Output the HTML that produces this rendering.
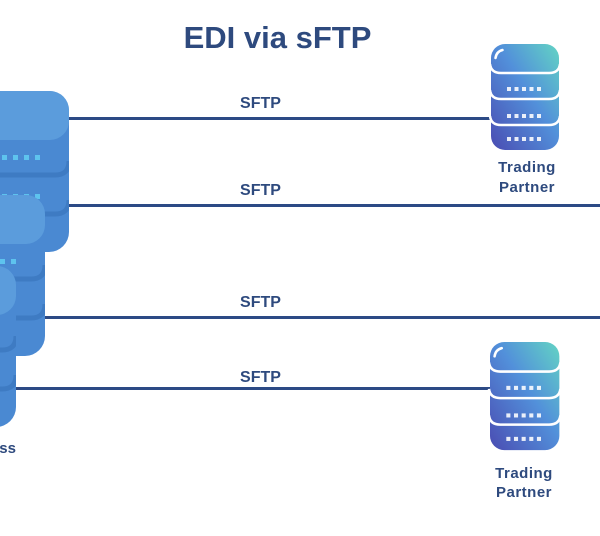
<!DOCTYPE html>
<html>
<head>
<meta charset="utf-8">
<style>
  html,body{margin:0;padding:0;background:#ffffff;}
  body{width:600px;height:536px;overflow:hidden;}
  svg{display:block;}
  text{font-family:"Liberation Sans", Arial, sans-serif;font-weight:bold;fill:#2e4a7e;}
</style>
</head>
<body>
<svg width="600" height="536" viewBox="0 0 600 536" xmlns="http://www.w3.org/2000/svg">
  <defs>
    <linearGradient id="tg" x1="0" y1="1" x2="1" y2="0">
      <stop offset="0" stop-color="#4a4cb2"/>
      <stop offset="0.55" stop-color="#5290da"/>
      <stop offset="1" stop-color="#63d4c4"/>
    </linearGradient>
    <clipPath id="lclip">
      <rect x="0" y="0" width="105" height="161" rx="20" ry="20"/>
    </clipPath>
    <!-- left (flat) server, 105 x 161 -->
    <g id="lserver">
      <rect x="0" y="0" width="105" height="161" rx="20" ry="20" fill="#4a89d2"/>
      <g clip-path="url(#lclip)">
        <path d="M0 70 Q0 84 14 84 L91 84 Q105 84 105 70" fill="none" stroke="#3e7bc3" stroke-width="5"/>
        <path d="M0 109 Q0 123 14 123 L91 123 Q105 123 105 109" fill="none" stroke="#3e7bc3" stroke-width="5"/>
      </g>
      <rect x="0" y="0" width="105" height="49" rx="19" ry="19" fill="#5b9cdc"/>
      <g fill="#5ec3ee">
        <rect x="27" y="64" width="5" height="5"/>
        <rect x="38" y="64" width="5" height="5"/>
        <rect x="49" y="64" width="5" height="5"/>
        <rect x="60" y="64" width="5" height="5"/>
        <rect x="71" y="64" width="5" height="5"/>
        <rect x="27" y="103" width="5" height="5"/>
        <rect x="38" y="103" width="5" height="5"/>
        <rect x="49" y="103" width="5" height="5"/>
        <rect x="60" y="103" width="5" height="5"/>
        <rect x="71" y="103" width="5" height="5"/>
        <rect x="27" y="140" width="5" height="5"/>
        <rect x="38" y="140" width="5" height="5"/>
        <rect x="49" y="140" width="5" height="5"/>
        <rect x="60" y="140" width="5" height="5"/>
        <rect x="71" y="140" width="5" height="5"/>
      </g>
    </g>
    <!-- right (gradient) server, 68 x 106 -->
    <g id="rserver">
      <rect x="0" y="0" width="68" height="106" rx="14" ry="14" fill="url(#tg)"/>
      <g fill="none" stroke="#ffffff" stroke-width="2.5">
        <path d="M-1 20 Q0 29 10 29 L58 29 Q68 29 69 20"/>
        <path d="M-1 46 Q0 55 10 55 L58 55 Q68 55 69 46"/>
        <path d="M-1 72 Q0 81 10 81 L58 81 Q68 81 69 72"/>
      </g>
      <path d="M4.5 14 Q5.5 7.5 11.5 6" fill="none" stroke="#ffffff" stroke-width="2.5" stroke-linecap="round"/>
      <g fill="#ffffff" fill-opacity="0.88">
        <rect x="16" y="43" width="4" height="4"/>
        <rect x="23.5" y="43" width="4" height="4"/>
        <rect x="31" y="43" width="4" height="4"/>
        <rect x="38.5" y="43" width="4" height="4"/>
        <rect x="46" y="43" width="4" height="4"/>
        <rect x="16" y="70" width="4" height="4"/>
        <rect x="23.5" y="70" width="4" height="4"/>
        <rect x="31" y="70" width="4" height="4"/>
        <rect x="38.5" y="70" width="4" height="4"/>
        <rect x="46" y="70" width="4" height="4"/>
        <rect x="16" y="93" width="4" height="4"/>
        <rect x="23.5" y="93" width="4" height="4"/>
        <rect x="31" y="93" width="4" height="4"/>
        <rect x="38.5" y="93" width="4" height="4"/>
        <rect x="46" y="93" width="4" height="4"/>
      </g>
    </g>
  </defs>

  <!-- Title -->
  <text x="277.5" y="48" font-size="31" text-anchor="middle">EDI via sFTP</text>

  <!-- Connector lines -->
  <g stroke="#2c4a85" stroke-width="3">
    <line x1="60" y1="118.5" x2="492" y2="118.5"/>
    <line x1="60" y1="205.5" x2="600" y2="205.5"/>
    <line x1="40" y1="317.5" x2="600" y2="317.5"/>
    <line x1="10" y1="388.5" x2="491" y2="388.5"/>
  </g>

  <!-- SFTP labels -->
  <g font-size="16" text-anchor="middle">
    <text x="260.5" y="108">SFTP</text>
    <text x="260.5" y="195">SFTP</text>
    <text x="260.5" y="307">SFTP</text>
    <text x="260.5" y="382">SFTP</text>
  </g>

  <!-- Left stacked servers -->
  <use href="#lserver" x="-36" y="91"/>
  <use href="#lserver" x="-60" y="195"/>
  <use href="#lserver" x="-89" y="266"/>

  <text x="16" y="453" font-size="15" text-anchor="end">Business</text>

  <!-- Right servers -->
  <use href="#rserver" x="491" y="44"/>
  <g transform="translate(490,342) scale(1.02,1.02)">
    <use href="#rserver"/>
  </g>

  <g font-size="15" text-anchor="middle" letter-spacing="0.5">
    <text x="527" y="172">Trading</text>
    <text x="527" y="192">Partner</text>
    <text x="524" y="478">Trading</text>
    <text x="524" y="497">Partner</text>
  </g>
</svg>
</body>
</html>
